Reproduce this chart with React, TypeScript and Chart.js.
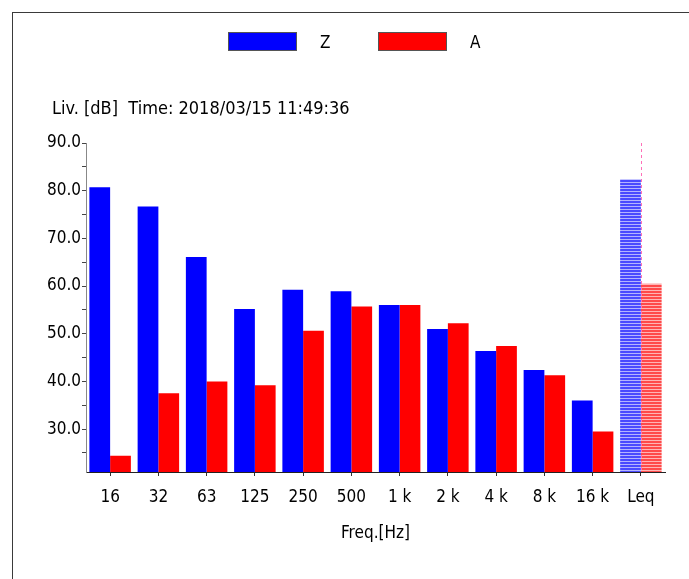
import React, { useEffect, useRef } from 'react';
import { Chart, registerables } from 'chart.js';

Chart.register(...registerables);

// ---- data ----
const categories = ['16', '32', '63', '125', '250', '500', '1 k', '2 k', '4 k', '8 k', '16 k', 'Leq'];
const zValues = [80.7, 76.7, 66.1, 55.2, 59.2, 58.9, 56.0, 51.0, 46.4, 42.4, 36.0, 82.4];
const aValues = [24.4, 37.5, 40.0, 39.2, 50.6, 55.7, 56.0, 52.2, 47.4, 41.3, 29.5, 60.5];
const seriesNames = ['Z', 'A'];
const yTickValues = [25, 30, 35, 40, 45, 50, 55, 60, 65, 70, 75, 80, 85, 90];
const yMin = 21;
const yMax = 90;
const hatchedCategory = 'Leq';
const cursorCategory = 'Leq';
const subtitleText = 'Liv. [dB]  Time: 2018/03/15 11:49:36';
const xTitleText = 'Freq.[Hz]';

const FONT = "'Liberation Sans Narrow', 'DejaVu Sans Condensed', 'Liberation Sans', Arial, sans-serif";
const FONT_SIZE = 17;

export default function App() {
  const canvasRef = useRef<HTMLCanvasElement>(null);

  useEffect(() => {
    const canvas = canvasRef.current;
    if (!canvas) return;
    const ctx = canvas.getContext('2d');
    if (!ctx) return;

    const makePattern = (dark: string, light: string) => {
      const c = document.createElement('canvas');
      c.width = 4;
      c.height = 3;
      const g = c.getContext('2d')!;
      g.fillStyle = dark;
      g.fillRect(0, 0, 4, 2);
      g.fillStyle = light;
      g.fillRect(0, 2, 4, 1);
      return ctx.createPattern(c, 'repeat') as CanvasPattern;
    };
    const bluePattern = makePattern('#4a4aff', '#b4b4ff');
    const redPattern = makePattern('#ff4a4a', '#ffb4b4');

    const zColors = categories.map((c) => (c === hatchedCategory ? bluePattern : '#0000ff'));
    const aColors = categories.map((c) => (c === hatchedCategory ? redPattern : '#ff0000'));

    const cursorPlugin = {
      id: 'cursorLine',
      afterDatasetsDraw(chart: any) {
        const xs = chart.scales.x;
        const x = Math.round(xs.getPixelForValue(categories.indexOf(cursorCategory))) + 0.5;
        const { top, bottom } = chart.chartArea;
        const c = chart.ctx;
        c.save();
        c.strokeStyle = '#ff6fb7';
        c.lineWidth = 1;
        c.setLineDash([3, 3]);
        c.beginPath();
        c.moveTo(x, top);
        c.lineTo(x, bottom);
        c.stroke();
        c.restore();
      },
    };

    const chart = new Chart(canvas, {
      type: 'bar',
      data: {
        labels: categories,
        datasets: [
          {
            label: seriesNames[0],
            data: zValues,
            backgroundColor: zColors as any,
            borderWidth: 0,
            categoryPercentage: 0.86,
            barPercentage: 1.0,
          },
          {
            label: seriesNames[1],
            data: aValues,
            backgroundColor: aColors as any,
            borderWidth: 0,
            categoryPercentage: 0.86,
            barPercentage: 1.0,
          },
        ],
      },
      options: {
        responsive: false,
        animation: false,
        devicePixelRatio: 1,
        layout: { padding: { left: 0, top: 143, right: 24, bottom: 0 } },
        plugins: {
          legend: { display: false },
          title: { display: false },
          tooltip: { enabled: false },
        },
        scales: {
          x: {
            offset: true,
            grid: { offset: false, drawOnChartArea: false, drawTicks: true, tickLength: 4, color: '#333' },
            border: { display: true, color: '#222', width: 1 },
            ticks: {
              color: '#000',
              font: { family: FONT, size: FONT_SIZE },
              padding: 11,
              maxRotation: 0,
              autoSkip: false,
            },
            title: {
              display: true,
              text: xTitleText,
              color: '#000',
              font: { family: FONT, size: FONT_SIZE },
              padding: { top: 0, bottom: 35 },
            },
            afterFit: (s: any) => {
              s.height = 107;
            },
          },
          y: {
            min: yMin,
            max: yMax,
            afterBuildTicks: (s: any) => {
              s.ticks = yTickValues.map((v) => ({ value: v }));
            },
            grid: { drawOnChartArea: false, drawTicks: true, tickLength: 4, color: '#444' },
            border: { display: true, color: '#888', width: 1 },
            ticks: {
              color: '#000',
              font: { family: FONT, size: FONT_SIZE },
              padding: 1,
              callback: (v: any) => (Number(v) % 10 === 0 ? Number(v).toFixed(1) : ''),
            },
            afterFit: (s: any) => {
              s.width = 86;
            },
          },
        },
      },
      plugins: [cursorPlugin],
    });

    return () => chart.destroy();
  }, []);

  const textStyle: React.CSSProperties = {
    position: 'absolute',
    fontFamily: FONT,
    fontSize: FONT_SIZE,
    color: '#000',
    lineHeight: '20px',
    whiteSpace: 'pre',
  };

  return (
    <div style={{ position: 'absolute', left: 0, top: 0, width: 689, height: 579, background: '#fff', overflow: 'hidden' }}>
      <div
        style={{
          position: 'absolute',
          left: 12,
          top: 12,
          width: 689,
          height: 579,
          borderTop: '1px solid #3a3a3a',
          borderLeft: '1px solid #3a3a3a',
        }}
      />
      <canvas ref={canvasRef} width={689} height={579} style={{ position: 'absolute', left: 0, top: 0, display: 'block' }} />
      <div style={{ position: 'absolute', left: 228, top: 32, width: 69, height: 19, background: '#0000ff', border: '1px solid #555', boxSizing: 'border-box' }} />
      <div style={{ ...textStyle, left: 320, top: 32 }}>{seriesNames[0]}</div>
      <div style={{ position: 'absolute', left: 378, top: 32, width: 69, height: 19, background: '#ff0000', border: '1px solid #555', boxSizing: 'border-box' }} />
      <div style={{ ...textStyle, left: 470, top: 32 }}>{seriesNames[1]}</div>
      <div style={{ ...textStyle, left: 52, top: 98, fontSize: 18 }}>{subtitleText}</div>
    </div>
  );
}
